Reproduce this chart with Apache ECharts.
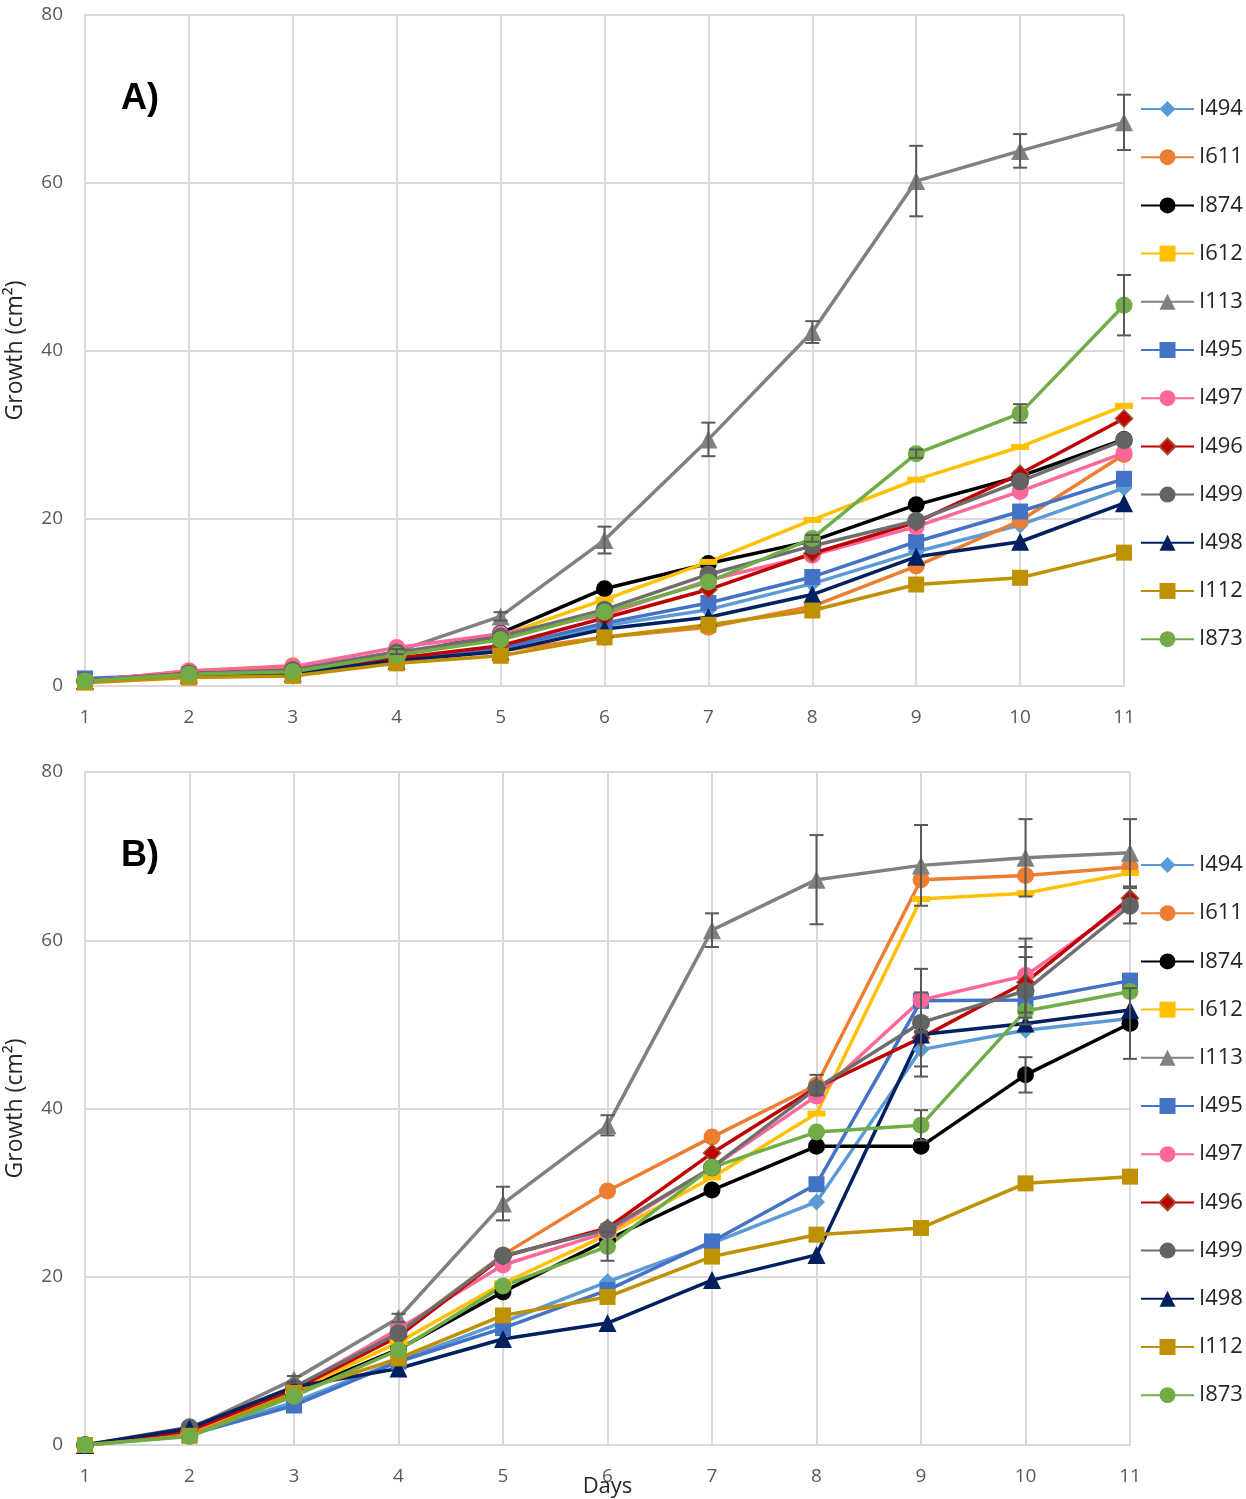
<!DOCTYPE html>
<html>
<head>
<meta charset="utf-8">
<script src="https://cdn.jsdelivr.net/npm/echarts@6/dist/echarts.min.js"></script>
<style>html,body{margin:0;padding:0;background:#fff;overflow:hidden;}#c{width:1246px;height:1499px;}</style>
</head>
<body>
<div id="c"></div>
<script>
// ---- categories / ticks ----
const days = ['1','2','3','4','5','6','7','8','9','10','11'];
const names = ['I494','I611','I874','I612','I113','I495','I497','I496','I499','I498','I112','I873'];

// ---- Panel A values ----
const A_I494 = [0.6, 1.4, 1.6, 3.2, 4.5, 7.2, 9.1, 12.2, 16.0, 19.2, 23.6];
const A_I611 = [0.6, 1.8, 2.4, 3.4, 4.2, 5.8, 7.0, 9.5, 14.3, 19.7, 27.6];
const A_I874 = [0.6, 1.5, 1.8, 3.6, 6.3, 11.6, 14.6, 17.3, 21.6, 25.0, 29.4];
const A_I612 = [0.6, 1.5, 1.8, 3.6, 6.0, 10.3, 14.8, 19.8, 24.6, 28.5, 33.4];
const A_I113 = [0.7, 1.6, 2.0, 4.1, 8.3, 17.4, 29.4, 42.2, 60.2, 63.8, 67.2];
const A_I495 = [0.9, 1.4, 1.6, 3.2, 4.5, 7.5, 9.9, 13.0, 17.2, 20.8, 24.7];
const A_I497 = [0.6, 1.8, 2.3, 4.6, 6.2, 8.5, 12.6, 15.6, 19.0, 23.2, 27.8];
const A_I496 = [0.6, 1.5, 1.8, 3.3, 4.8, 8.1, 11.5, 15.8, 19.5, 25.3, 31.9];
const A_I499 = [0.6, 1.5, 1.9, 4.0, 5.9, 9.1, 13.3, 16.7, 19.7, 24.4, 29.3];
const A_I498 = [0.6, 1.3, 1.5, 3.0, 4.1, 6.8, 8.2, 10.9, 15.4, 17.2, 21.8];
const A_I112 = [0.4, 1.0, 1.2, 2.7, 3.6, 5.8, 7.3, 9.0, 12.1, 12.9, 15.9];
const A_I873 = [0.6, 1.4, 1.7, 3.7, 5.5, 8.8, 12.4, 17.6, 27.7, 32.5, 45.4];

// ---- Panel A error bars (± values, null = none visible) ----
const errA_I113 = [null, null, null, 0.3, 0.5, 1.6, 2.0, 1.3, 4.2, 2.0, 3.3];
const errA_I873 = [null, null, null, null, null, null, null, 0.4, 0.5, 1.1, 3.6];

// ---- Panel B values ----
const B_I494 = [0, 1.2, 5.1, 10.0, 14.6, 19.4, 24.0, 28.9, 47.0, 49.3, 50.7];
const B_I611 = [0, 1.5, 6.5, 13.3, 22.6, 30.2, 36.6, 42.8, 67.2, 67.7, 68.7];
const B_I874 = [0, 1.4, 6.2, 11.4, 18.2, 24.4, 30.3, 35.5, 35.5, 44.0, 50.1];
const B_I612 = [0, 1.4, 6.4, 12.2, 19.2, 25.0, 31.8, 39.4, 64.9, 65.6, 68.0];
const B_I113 = [0, 1.9, 7.8, 15.1, 28.7, 38.0, 61.2, 67.2, 68.9, 69.8, 70.4];
const B_I495 = [0, 1.2, 4.7, 9.9, 13.9, 18.4, 24.2, 31.0, 52.8, 52.9, 55.2];
const B_I497 = [0, 1.6, 6.7, 13.8, 21.4, 25.3, 33.0, 41.5, 52.9, 55.8, 64.5];
const B_I496 = [0, 1.7, 6.6, 12.9, 22.4, 25.8, 34.7, 42.5, 48.4, 55.0, 65.0];
const B_I499 = [0, 2.1, 6.9, 13.3, 22.5, 25.6, 33.0, 42.4, 50.2, 54.0, 64.1];
const B_I498 = [0, 2.0, 6.9, 9.1, 12.6, 14.5, 19.6, 22.6, 48.8, 50.1, 51.7];
const B_I112 = [0, 1.1, 6.2, 10.3, 15.4, 17.6, 22.4, 25.0, 25.8, 31.1, 31.9];
const B_I873 = [0, 1.0, 5.8, 11.3, 18.9, 23.6, 33.0, 37.2, 38.0, 51.6, 53.9];

// ---- Panel B error bars ----
const errB_I113 = [null, null, 0.4, 0.5, 2.0, 1.2, 2.0, 5.3, 4.8, 4.6, 4.0];
const errB_I611 = [null, null, null, null, null, null, null, 1.2, null, null, null];
const errB_I497 = [null, null, null, null, null, null, null, null, 3.7, 4.4, null];
const errB_I496 = [null, null, null, null, null, null, null, null, null, 4.2, null];
const errB_I499 = [null, null, null, null, null, null, null, null, null, 4.0, 2.1];
const errB_I498 = [null, null, null, null, null, null, null, null, 5.0, null, null];
const errB_I494 = [null, null, null, null, null, null, null, null, 2.0, null, null];
const errB_I873 = [null, null, null, null, null, 1.7, null, null, 1.8, null, null];
const errB_I874 = [null, null, null, null, null, null, null, null, null, 2.1, 4.2];

const yTicks = [0, 20, 40, 60, 80];

// ---- styles ----
const styles = {
  I494: {color:'#5B9BD5', symbol:'diamond', size:17},
  I611: {color:'#ED7D31', symbol:'circle', size:17},
  I874: {color:'#000000', symbol:'circle', size:17},
  I612: {color:'#FFC000', symbol:'rect', size:[18,6]},
  I113: {color:'#808080', symbol:'triangle', size:18},
  I495: {color:'#4472C4', symbol:'rect', size:16},
  I497: {color:'#FF6699', symbol:'circle', size:17},
  I496: {color:'#C00000', symbol:'diamond', size:17, border:'#A0522D'},
  I499: {color:'#636363', symbol:'circle', size:18, line:'#6E6E6E'},
  I498: {color:'#002060', symbol:'triangle', size:18},
  I112: {color:'#BF9000', symbol:'rect', size:16},
  I873: {color:'#70AD47', symbol:'circle', size:17}
};

const panelA = [A_I494, A_I611, A_I874, A_I612, A_I113, A_I495, A_I497, A_I496, A_I499, A_I498, A_I112, A_I873];
const panelB = [B_I494, B_I611, B_I874, B_I612, B_I113, B_I495, B_I497, B_I496, B_I499, B_I498, B_I112, B_I873];
const errsA = [[A_I113, errA_I113], [A_I873, errA_I873]];
const errsB = [[B_I494, errB_I494], [B_I874, errB_I874], [B_I113, errB_I113], [B_I611, errB_I611],
               [B_I497, errB_I497], [B_I496, errB_I496], [B_I499, errB_I499], [B_I498, errB_I498], [B_I873, errB_I873]];

function lineSeries(vals, name, gi) {
  const s = styles[name];
  return {
    type:'line', name:name, xAxisIndex:gi, yAxisIndex:gi, data:vals,
    symbol:s.symbol, symbolSize:s.size, showSymbol:true,
    lineStyle:{color:s.line || s.color, width:3.5},
    itemStyle:{color:s.color, borderColor:s.border || s.color, borderWidth:s.border?1.5:0},
    emphasis:{disabled:true}, animation:false, z:3
  };
}

function errData(list) {
  const out = [];
  list.forEach(([vals, errs]) => {
    errs.forEach((e, i) => { if (e != null) out.push([i, vals[i], e]); });
  });
  return out;
}

function errSeries(list, gi) {
  return {
    type:'custom', name:'err'+gi, xAxisIndex:gi, yAxisIndex:gi, z:4, animation:false,
    dimensions:['x','y','e'], encode:{x:0, y:1},
    data: errData(list),
    renderItem: function(params, api) {
      const x = api.value(0), y = api.value(1), e = api.value(2);
      const t = api.coord([x, y + e]), b = api.coord([x, y - e]);
      const c = 7, st = {stroke:'#595959', lineWidth:2};
      return {type:'group', children:[
        {type:'line', shape:{x1:t[0], y1:t[1], x2:b[0], y2:b[1]}, style:st},
        {type:'line', shape:{x1:t[0]-c, y1:t[1], x2:t[0]+c, y2:t[1]}, style:st},
        {type:'line', shape:{x1:b[0]-c, y1:b[1], x2:b[0]+c, y2:b[1]}, style:st}
      ]};
    }
  };
}

const font = '"Open Sans", "Liberation Sans", sans-serif';
function xAxis(gi, withName) {
  return {
    type:'category', gridIndex:gi, data:days, boundaryGap:false,
    axisLine:{show:true, lineStyle:{color:'#d9d9d9', width:2}},
    axisTick:{show:false},
    axisLabel:{color:'#595959', fontSize:19, margin:22, fontFamily:font},
    splitLine:{show:true, lineStyle:{color:'#d9d9d9', width:2}},
    name: withName ? 'Days' : '', nameLocation:'middle', nameGap:31, nameMoveOverlap:false,
    nameTextStyle:{color:'#262626', fontSize:22, fontFamily:font}
  };
}
function yAxis(gi) {
  return {
    type:'value', gridIndex:gi, min:yTicks[0], max:yTicks[yTicks.length-1], interval:20,
    axisLine:{show:true, lineStyle:{color:'#d9d9d9', width:2}},
    axisTick:{show:false},
    axisLabel:{color:'#595959', fontSize:19, margin:22, fontFamily:font},
    splitLine:{show:true, lineStyle:{color:'#d9d9d9', width:2}},
    name:'Growth (cm²)', nameLocation:'middle', nameGap:58, nameRotate:90, nameMoveOverlap:false,
    nameTextStyle:{color:'#262626', fontSize:23, fontFamily:font}
  };
}
function legend(top) {
  return {
    data:names, orient:'vertical', left:1140, top:top, padding:0,
    itemWidth:53, itemHeight:20, itemGap:24.2,
    textStyle:{color:'#262626', fontSize:22, lineHeight:24, fontFamily:font},
    selectedMode:false
  };
}

const series = [];
names.forEach((n, i) => series.push(lineSeries(panelA[i], n, 0)));
series.push(errSeries(errsA, 0));
names.forEach((n, i) => series.push(lineSeries(panelB[i], n, 1)));
series.push(errSeries(errsB, 1));

const chart = echarts.init(document.getElementById('c'), null, {renderer:'canvas', width:1246, height:1499});
chart.setOption({
  backgroundColor:'#ffffff',
  animation:false,
  title:[
    {text:'A)', left:116, top:76, textStyle:{fontSize:36, fontWeight:'bold', color:'#000', fontFamily:'"Liberation Sans", Arial, sans-serif'}},
    {text:'B)', left:116, top:833, textStyle:{fontSize:36, fontWeight:'bold', color:'#000', fontFamily:'"Liberation Sans", Arial, sans-serif'}}
  ],
  grid:[
    {left:85, top:15, width:1039, height:671, containLabel:false, outerBoundsMode:'none'},
    {left:85, top:772, width:1045, height:673, containLabel:false, outerBoundsMode:'none'}
  ],
  xAxis:[xAxis(0,false), xAxis(1,true)],
  yAxis:[yAxis(0), yAxis(1)],
  legend:[legend(97), legend(853)],
  series:series
});
</script>
</body>
</html>
